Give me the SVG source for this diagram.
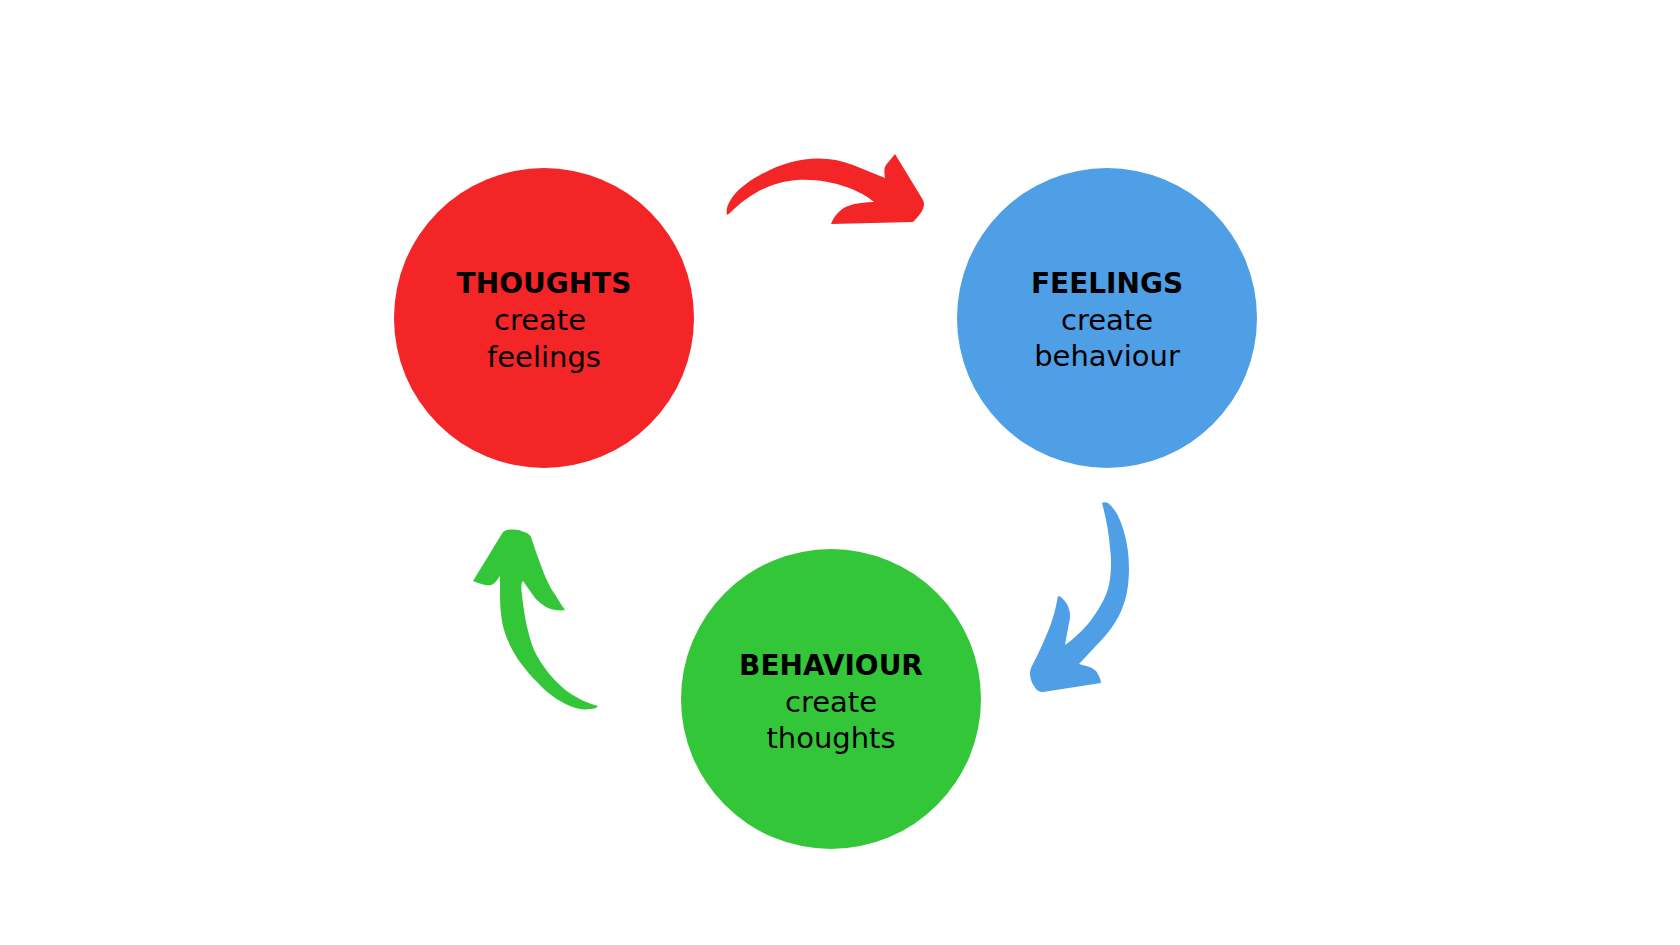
<svg xmlns="http://www.w3.org/2000/svg" width="1680" height="945" viewBox="0 0 1680 945">
<style>
.b{font-family:"DejaVu Sans","Open Sans",sans-serif;font-weight:bold;font-size:28px;fill:#000;text-anchor:middle}
.r{font-family:"DejaVu Sans","Open Sans",sans-serif;font-size:29px;fill:#000;text-anchor:middle}
</style>
<rect width="1680" height="945" fill="#ffffff"/>
<g id="thoughts">
<circle cx="544" cy="318" r="150" fill="#F42527"/>
<text class="b" x="544" y="293">THOUGHTS</text>
<text class="r" x="540" y="330">create</text>
<text class="r" x="544" y="367">feelings</text>
</g>
<g id="feelings">
<circle cx="1107" cy="318" r="150" fill="#4F9FE6"/>
<text class="b" x="1107" y="293">FEELINGS</text>
<text class="r" x="1107" y="330">create</text>
<text class="r" x="1107" y="366">behaviour</text>
</g>
<g id="behaviour">
<circle cx="831" cy="699" r="150" fill="#34C639"/>
<text class="b" x="831" y="675">BEHAVIOUR</text>
<text class="r" x="831" y="712">create</text>
<text class="r" x="831" y="748">thoughts</text>
</g>
<g id="connectors">
<path fill="#F42527" d="M727,215 C726,211 727,206 730,201 C734,193 745,183 760,175 C790,158 823,153 853,165 L885,178 C884,172 884,168 886,165 L895,154 L923,200 C926,206 922,213 913,222 L831,224 C834,216 840,209 848,206 C856,203 866,202 874,202 C860,190 830,178 797,180 C770,182 748,195 730,213 Z"/>
<path fill="#4F9FE6" d="M1102,503 C1104,502 1106,502 1108,503 C1116,510 1120,518 1124,532 C1130,552 1130,575 1127,592 C1122,618 1108,634 1094,648 L1079,664 C1086,666 1092,667 1096,671 C1099,675 1101,680 1101,683 L1043,692 C1039,692 1036,690 1034,686 C1030,680 1029,673 1031,668 C1036,658 1040,650 1043,643 C1048,632 1053,620 1056,606 L1058,596 C1061,596 1064,600 1067,604 C1070,610 1071,616 1069,623 L1065,645 C1072,640 1080,633 1088,624 C1098,611 1106,598 1109,585 C1112,570 1111,555 1110,548 C1109,533 1106,518 1102,503 Z"/>
<path fill="#34C639" d="M503,532 C507,529 514,529 519,530 C524,532 529,533 531,537 C534,546 537,555 540,563 C545,577 550,588 556,596 C560,603 563,607 565,610 C560,611 553,610 548,608 C542,605 537,600 535,598 L523,581 C521,583 521,588 522,595 C524,615 528,635 534,650 C542,667 555,682 568,692 C578,699 590,704 598,706 C597,708 594,709 590,709 C584,710 577,709 570,706 C558,701 546,692 538,683 C522,667 510,650 504,630 C500,615 500,600 500,590 L500,576 C497,580 495,584 491,585 C487,586 480,584 473,581 Z"/>
</g>
</svg>
